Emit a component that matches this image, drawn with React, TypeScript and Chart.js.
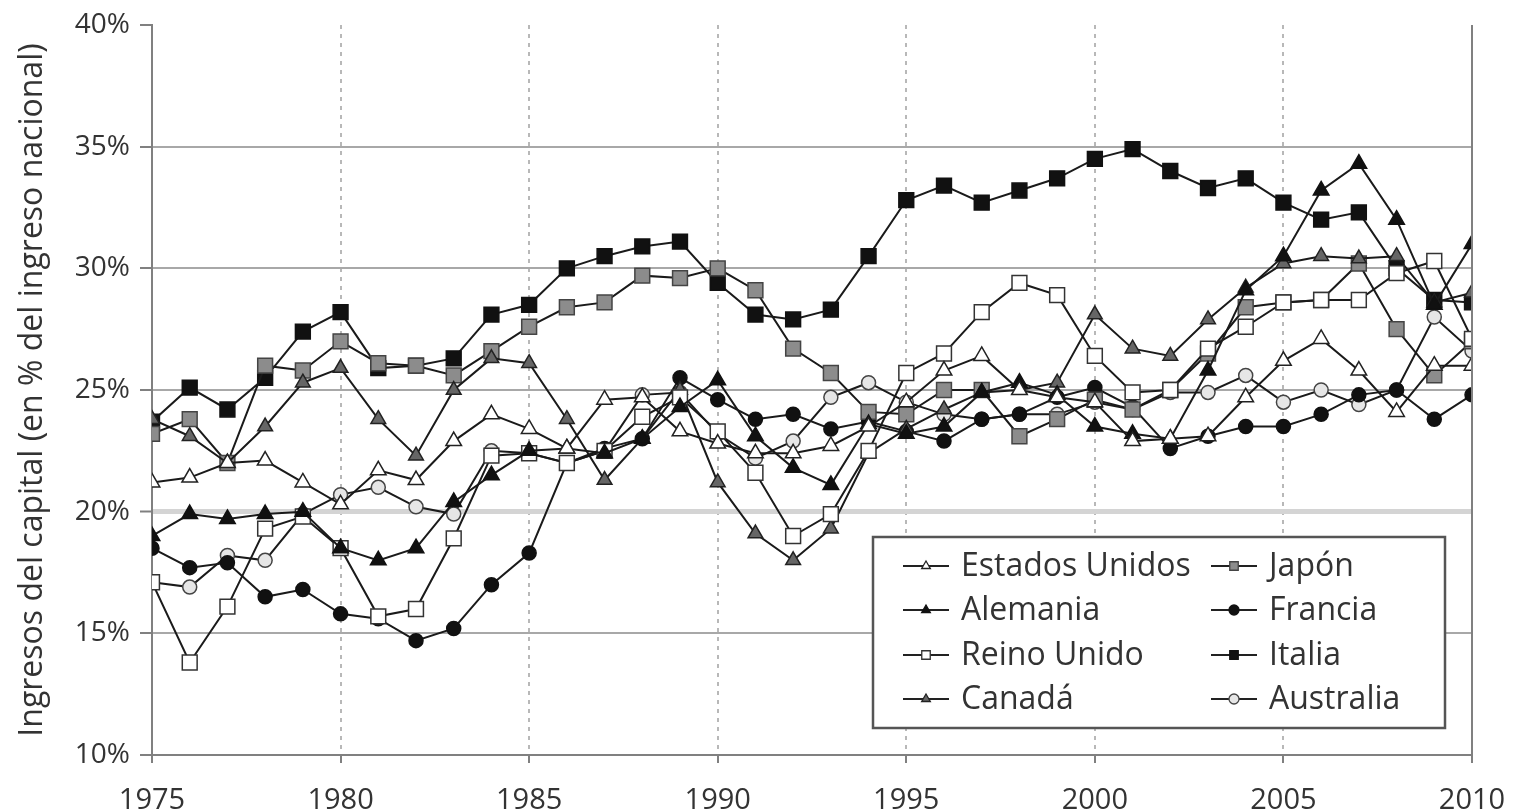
import React, { useEffect, useRef } from 'react';
import { Chart, registerables } from 'chart.js';
import { drawPoint } from 'chart.js/helpers';

Chart.register(...registerables);

// ---------- data ----------
const years = [
  1975, 1976, 1977, 1978, 1979, 1980, 1981, 1982, 1983, 1984,
  1985, 1986, 1987, 1988, 1989, 1990, 1991, 1992, 1993, 1994,
  1995, 1996, 1997, 1998, 1999, 2000, 2001, 2002, 2003, 2004,
  2005, 2006, 2007, 2008, 2009, 2010,
];

const estadosUnidos = [
  21.2, 21.4, 22.0, 22.1, 21.2, 20.3, 21.7, 21.3, 22.9, 24.0,
  23.4, 22.6, 24.6, 24.7, 23.3, 22.8, 22.4, 22.4, 22.7, 23.5,
  24.5, 25.8, 26.4, 25.0, 24.7, 24.5, 22.9, 23.0, 23.1, 24.7,
  26.2, 27.1, 25.8, 24.1, 26.0, 26.0,
];
const alemania = [
  19.0, 19.9, 19.7, 19.9, 20.0, 18.5, 18.0, 18.5, 20.4, 21.5,
  22.5, 22.6, 22.4, 23.0, 24.3, 25.4, 23.1, 21.8, 21.1, 23.6,
  23.2, 23.5, 24.9, 25.3, 24.8, 23.5, 23.2, 23.0, 25.8, 29.1,
  30.5, 33.2, 34.3, 32.0, 28.5, 31.0,
];
const reinoUnido = [
  17.1, 13.8, 16.1, 19.3, 19.8, 18.5, 15.7, 16.0, 18.9, 22.3,
  22.4, 22.0, 22.5, 23.9, 24.7, 23.3, 21.6, 19.0, 19.9, 22.5,
  25.7, 26.5, 28.2, 29.4, 28.9, 26.4, 24.9, 25.0, 26.7, 27.6,
  28.6, 28.7, 28.7, 29.8, 30.3, 27.1,
];
const canada = [
  23.8, 23.1, 22.0, 23.5, 25.3, 25.9, 23.8, 22.3, 25.0, 26.3,
  26.1, 23.8, 21.3, 23.0, 25.0, 21.2, 19.1, 18.0, 19.3, 22.4,
  23.4, 24.2, 24.9, 25.0, 25.3, 28.1, 26.7, 26.4, 27.9, 29.2,
  30.2, 30.5, 30.4, 30.5, 28.6, 29.0,
];
const japon = [
  23.2, 23.8, 22.0, 26.0, 25.8, 27.0, 26.1, 26.0, 25.6, 26.6,
  27.6, 28.4, 28.6, 29.7, 29.6, 30.0, 29.1, 26.7, 25.7, 24.1,
  24.0, 25.0, 25.0, 23.1, 23.8, 24.6, 24.2, 25.0, 26.5, 28.4,
  28.6, 28.7, 30.2, 27.5, 25.6, 27.0,
];
const francia = [
  18.5, 17.7, 17.9, 16.5, 16.8, 15.8, 15.6, 14.7, 15.2, 17.0,
  18.3, 22.0, 22.6, 23.0, 25.5, 24.6, 23.8, 24.0, 23.4, 23.7,
  23.3, 22.9, 23.8, 24.0, 24.7, 25.1, 24.3, 22.6, 23.1, 23.5,
  23.5, 24.0, 24.8, 25.0, 23.8, 24.8,
];
const italia = [
  23.7, 25.1, 24.2, 25.5, 27.4, 28.2, 25.9, 26.0, 26.3, 28.1,
  28.5, 30.0, 30.5, 30.9, 31.1, 29.4, 28.1, 27.9, 28.3, 30.5,
  32.8, 33.4, 32.7, 33.2, 33.7, 34.5, 34.9, 34.0, 33.3, 33.7,
  32.7, 32.0, 32.3, 30.0, 28.7, 28.6,
];
const australia = [
  17.1, 16.9, 18.2, 18.0, 19.9, 20.7, 21.0, 20.2, 19.9, 22.5,
  22.4, 22.0, 22.5, 24.8, 24.9, 23.2, 22.2, 22.9, 24.7, 25.3,
  24.5, 24.0, 23.8, 24.0, 24.0, 24.5, 24.2, 24.9, 24.9, 25.6,
  24.5, 25.0, 24.4, 25.0, 28.0, 26.6,
];

const xTickValues = [1975, 1980, 1985, 1990, 1995, 2000, 2005, 2010];
const yTickValues = [10, 15, 20, 25, 30, 35, 40];
const yAxisTitle = 'Ingresos del capital (en % del ingreso nacional)';

const seriesNames = [
  'Estados Unidos', 'Alemania', 'Reino Unido', 'Canadá',
  'Japón', 'Francia', 'Italia', 'Australia',
];
const seriesValues = [
  estadosUnidos, alemania, reinoUnido, canada,
  japon, francia, italia, australia,
];

// ---------- styles ----------
const seriesStyles = [
  { pointStyle: 'triangle', fill: '#ffffff', border: '#222222', radius: 9 },
  { pointStyle: 'triangle', fill: '#111111', border: '#111111', radius: 9 },
  { pointStyle: 'rect', fill: '#ffffff', border: '#333333', radius: 10.5 },
  { pointStyle: 'triangle', fill: '#666666', border: '#222222', radius: 8.5 },
  { pointStyle: 'rect', fill: '#8c8c8c', border: '#444444', radius: 10.5 },
  { pointStyle: 'circle', fill: '#111111', border: '#111111', radius: 7 },
  { pointStyle: 'rect', fill: '#111111', border: '#111111', radius: 10.5 },
  { pointStyle: 'circle', fill: '#e6e6e6', border: '#444444', radius: 7 },
];

const FONT = "'Open Sans', 'Noto Sans', sans-serif";
const TEXT = '#333333';

const framePlugin = {
  id: 'frameAndLegend',
  afterDatasetsDraw(chart: any) {
    const { ctx, chartArea } = chart;
    ctx.save();
    ctx.strokeStyle = '#808080';
    ctx.lineWidth = 2;
    ctx.beginPath();
    ctx.moveTo(chartArea.right, chartArea.top);
    ctx.lineTo(chartArea.right, chartArea.bottom);
    ctx.stroke();
    ctx.restore();
  },
  afterDraw(chart: any) {
    const { ctx } = chart;
    ctx.save();
    // legend box
    const bx = 873, by = 537, bw = 572, bh = 191;
    ctx.fillStyle = '#ffffff';
    ctx.fillRect(bx, by, bw, bh);
    ctx.strokeStyle = '#555555';
    ctx.lineWidth = 2.5;
    ctx.strokeRect(bx, by, bw, bh);

    const colX = [903, 1211];
    const rowY = [566, 610, 655, 699];
    chart.data.datasets.forEach((ds: any, i: number) => {
      const col = i < 4 ? 0 : 1;
      const row = i % 4;
      const x0 = colX[col];
      const y = rowY[row];
      ctx.strokeStyle = '#222222';
      ctx.lineWidth = 2;
      ctx.beginPath();
      ctx.moveTo(x0, y);
      ctx.lineTo(x0 + 46, y);
      ctx.stroke();
      const st = seriesStyles[i];
      ctx.fillStyle = st.fill;
      ctx.strokeStyle = st.border;
      ctx.lineWidth = 1.3;
      drawPoint(ctx, {
        pointStyle: st.pointStyle,
        radius: st.pointStyle === 'rect' ? 6 : 5,
        rotation: 0,
        borderWidth: 1.3,
      } as any, x0 + 23, y);
      ctx.fillStyle = TEXT;
      ctx.font = `32px ${FONT}`;
      ctx.textBaseline = 'middle';
      ctx.textAlign = 'left';
      ctx.fillText(ds.label, x0 + 58, y + 1);
    });
    ctx.restore();
  },
};

export default function App() {
  const canvasRef = useRef<HTMLCanvasElement | null>(null);

  useEffect(() => {
    document.body.style.margin = '0';
    document.body.style.overflow = 'hidden';
    const canvas = canvasRef.current;
    if (!canvas) return;

    const datasets = seriesNames.map((name, i) => {
      const st = seriesStyles[i];
      return {
        label: name,
        data: years.map((yr, k) => ({ x: yr, y: seriesValues[i][k] })),
        borderColor: '#1a1a1a',
        borderWidth: 2,
        pointStyle: st.pointStyle,
        pointRadius: st.radius,
        pointBackgroundColor: st.fill,
        pointBorderColor: st.border,
        pointBorderWidth: 1.5,
        tension: 0,
        fill: false,
      };
    });

    const chart = new Chart(canvas, {
      type: 'line',
      data: { datasets },
      plugins: [framePlugin],
      options: {
        animation: false,
        responsive: false,
        devicePixelRatio: 1,
        layout: { padding: { left: 0, top: 25, right: 43, bottom: 0 } },
        plugins: {
          legend: { display: false },
          tooltip: { enabled: false },
        },
        scales: {
          x: {
            type: 'linear',
            min: 1975,
            max: 2010,
            afterBuildTicks: (scale: any) => {
              scale.ticks = xTickValues.map((v) => ({ value: v }));
            },
            afterFit: (scale: any) => {
              scale.height = 57;
              scale.paddingLeft = 0;
              scale.paddingRight = 0;
            },
            ticks: {
              callback: (v: any) => String(v),
              font: { family: FONT, size: 29 },
              color: TEXT,
              padding: 20,
              maxRotation: 0,
              autoSkip: false,
            },
            grid: {
              color: (c: any) =>
                c.tick && (c.tick.value === 1975 || c.tick.value === 2010)
                  ? 'rgba(0,0,0,0)'
                  : '#b8b8b8',
              lineWidth: 2,
              tickColor: '#808080',
              tickLength: 8,
            },
            border: { display: true, color: '#808080', width: 2, dash: [4, 5] },
          },
          y: {
            min: 10,
            max: 40,
            afterBuildTicks: (scale: any) => {
              scale.ticks = yTickValues.map((v) => ({ value: v }));
            },
            afterFit: (scale: any) => {
              scale.width = 152;
              scale.paddingTop = 0;
              scale.paddingBottom = 0;
            },
            ticks: {
              callback: (v: any) => `${v}%`,
              font: { family: FONT, size: 28 },
              color: TEXT,
              padding: 10,
            },
            grid: {
              color: (c: any) => {
                const v = c.tick ? c.tick.value : null;
                if (v === 20) return '#d4d4d4';
                if (v === 10 || v === 40) return 'rgba(0,0,0,0)';
                return '#a8a8a8';
              },
              lineWidth: (c: any) => (c.tick && c.tick.value === 20 ? 5 : 2),
              tickColor: '#808080',
              tickLength: 12,
              tickWidth: 2,
            },
            border: { display: true, color: '#808080', width: 2 },
            title: {
              display: true,
              text: yAxisTitle,
              font: { family: FONT, size: 32 },
              color: TEXT,
              padding: { top: 14, bottom: 0 },
            },
          },
        },
      } as any,
    });

    return () => chart.destroy();
  }, []);

  return (
    <div style={{ width: 1515, height: 812, background: '#ffffff' }}>
      <canvas ref={canvasRef} width={1515} height={812} />
    </div>
  );
}
